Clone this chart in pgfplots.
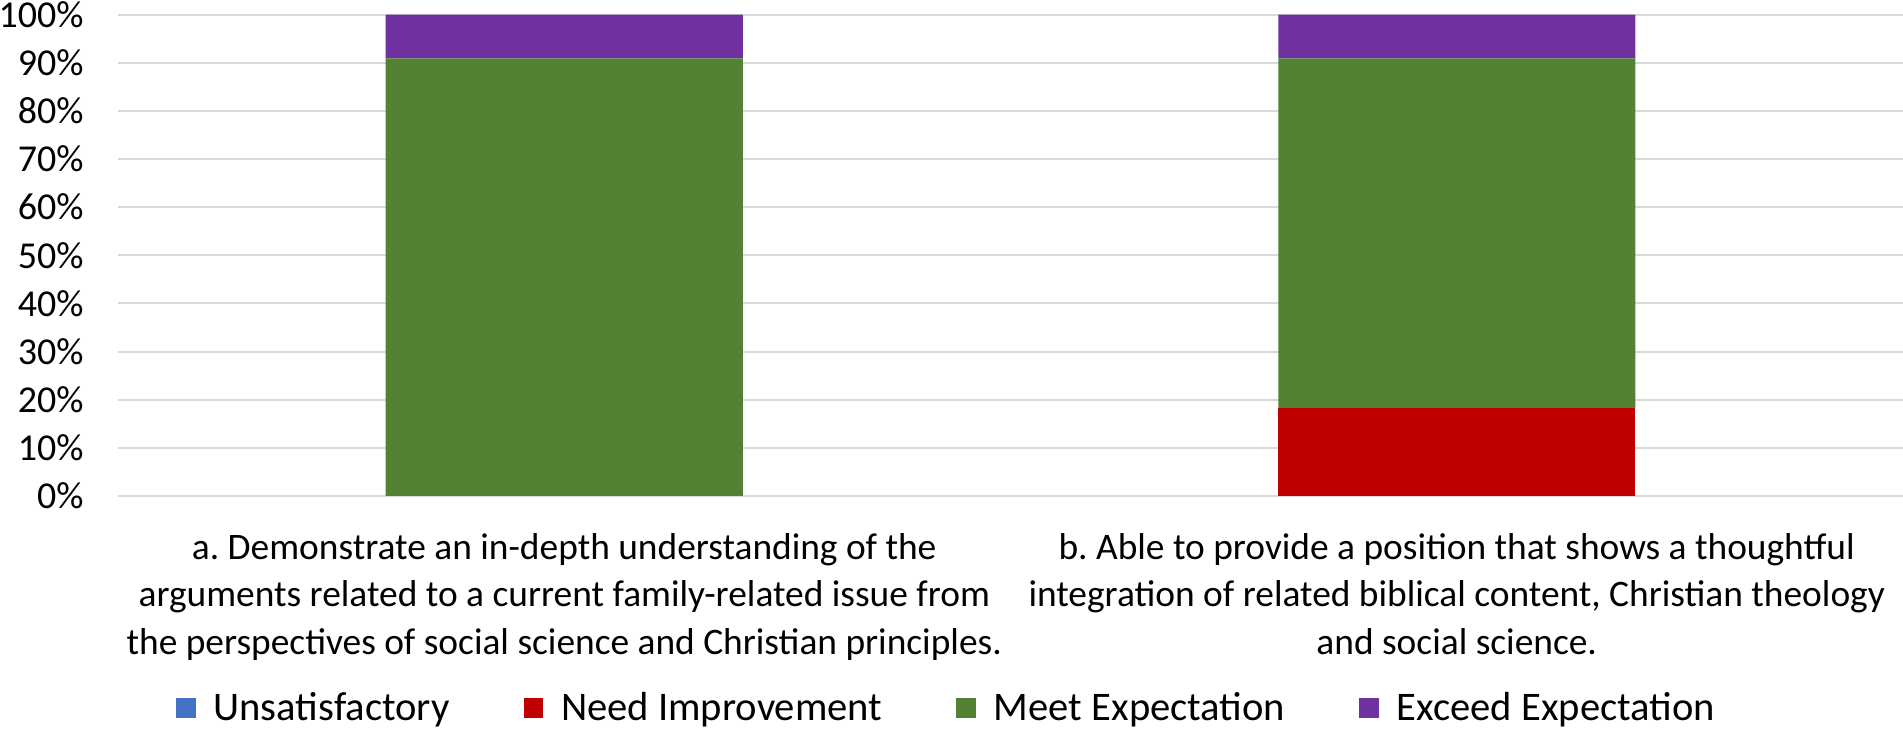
\documentclass[border=0pt]{standalone}
\usepackage{fontspec}
\setmainfont{Carlito}
\usepackage{pgfplots}
\pgfplotsset{compat=1.18}
\frenchspacing

\definecolor{cUns}{HTML}{4472C4}
\definecolor{cNeed}{HTML}{C00000}
\definecolor{cMeet}{HTML}{548235}
\definecolor{cExc}{HTML}{7030A0}
\definecolor{cGrid}{HTML}{D9D9D9}

\pgfplotsset{
  sq/.style={draw=none, fill=#1,
    legend image code/.code={\fill[#1] (0pt,-4.9pt) rectangle (9.8pt,4.9pt);}},
}

\begin{document}
\begin{tikzpicture}
\begin{axis}[
  scale only axis,
  width=892.5pt, height=240.7pt,
  ybar stacked, bar width=178.5pt,
  xmin=-0.5, xmax=1.5,
  ymin=0, ymax=100,
  axis line style={draw=none},
  major tick length=0pt,
  ymajorgrids, grid style={cGrid, line width=1pt},
  ytick={0,10,...,100},
  yticklabels={0\%,10\%,20\%,30\%,40\%,50\%,60\%,70\%,80\%,90\%,100\%},
  yticklabel style={anchor=east, inner sep=0pt, xshift=-17pt,
    font=\fontsize{19}{23}\selectfont},
  xtick={0,1},
  xticklabels={{a. Demonstrate an in-depth understanding of the\\arguments related to a current family-related issue from\\the perspectives of social science and Christian principles.},
               {b. Able to provide a position that shows a thoughtful\\integration of related biblical content, Christian theology\\and social science.}},
  xticklabel style={anchor=north, inner sep=0pt, yshift=-18.5pt, align=center,
    font=\fontsize{18.7}{23.8}\selectfont},
  legend columns=4,
  legend style={at={(0.4636,-0.4407)}, anchor=center, draw=none, fill=none,
    inner sep=0pt, font=\fontsize{20.3}{24}\selectfont,
    nodes={inner sep=0pt},
    /tikz/every odd column/.append style={column sep=9pt},
    /tikz/every even column/.append style={column sep=37pt}},
]
\addplot[sq=cUns] coordinates {(0,0) (1,0)};
\addlegendentry{Unsatisfactory}
\addplot[sq=cNeed] coordinates {(0,0) (1,18.18)};
\addlegendentry{Need Improvement}
\addplot[sq=cMeet] coordinates {(0,90.91) (1,72.73)};
\addlegendentry{Meet Expectation}
\addplot[sq=cExc] coordinates {(0,9.09) (1,9.09)};
\addlegendentry{Exceed Expectation}
\end{axis}
\pgfresetboundingbox
\path[use as bounding box] (-59pt,-117.5pt) rectangle (892.5pt,248pt);
\end{tikzpicture}
\end{document}
